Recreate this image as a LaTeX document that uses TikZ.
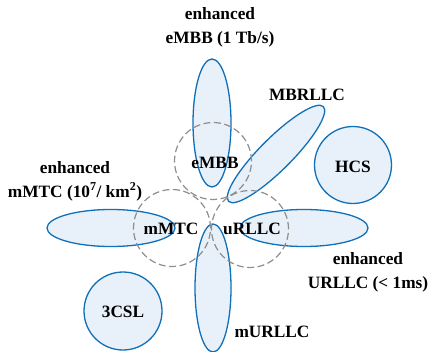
\documentclass[tikz,border=0pt]{standalone}
\usepackage{fontspec}
\setmainfont{Liberation Serif}
\usetikzlibrary{shapes.geometric}
\definecolor{edgeblue}{HTML}{1070B8}
\definecolor{fillblue}{HTML}{E8F0F9}
\definecolor{dashgray}{HTML}{8E8E8E}
\tikzset{
  blob/.style={ellipse, draw=edgeblue, fill=fillblue, line width=1.3pt, inner sep=0pt},
  dcirc/.style={circle, draw=dashgray, dash pattern=on 7pt off 3.5pt, line width=1.2pt, inner sep=0pt, minimum size=77pt},
  lbl/.style={font=\bfseries\fontsize{17.3}{24}\selectfont, inner sep=0pt, align=center},
}
\begin{document}
\begin{tikzpicture}[x=1pt,y=-1pt]
\useasboundingbox (0,0) rectangle (430,352);
% ellipses
\node[blob, minimum width=38pt, minimum height=128pt] (embbE) at (212,123) {};
\node[blob, minimum width=134pt, minimum height=32pt, rotate=45] (mbrllcE) at (276,154) {};
\node[blob, minimum width=128pt, minimum height=37pt] (mmtcE) at (111,228) {};
\node[blob, minimum width=128pt, minimum height=37pt] (urllcE) at (304,228) {};
\node[blob, minimum width=36pt, minimum height=128pt] (murllcE) at (213,288) {};
\node[blob, circle, minimum size=77pt] (hcs) at (353,165) {};
\node[blob, circle, minimum size=78pt] (csl) at (123,311) {};
% dashed circles
\node[dcirc] (embbC) at (213,161) {};
\node[dcirc] (mmtcC) at (172,228) {};
\node[dcirc] (urllcC) at (250,229) {};
% labels
\node[lbl] (t1) at (220,27) {enhanced\\eMBB (1 Tb/s)};
\node[lbl] (t2) at (307,95) {MBRLLC};
\node[lbl] (t3) at (215,163) {eMBB};
\node[lbl] (t4) at (353,167) {HCS};
\node[lbl] (t5) at (75,181) {enhanced\\mMTC (10\textsuperscript{7}/ km\textsuperscript{2})};
\node[lbl] (t6) at (171,229) {mMTC};
\node[lbl] (t7) at (252,229) {uRLLC};
\node[lbl] (t8) at (368,272) {enhanced\\URLLC (< 1ms)};
\node[lbl] (t9) at (123,312) {3CSL};
\node[lbl] (t10) at (272,332) {mURLLC};
\end{tikzpicture}
\end{document}
